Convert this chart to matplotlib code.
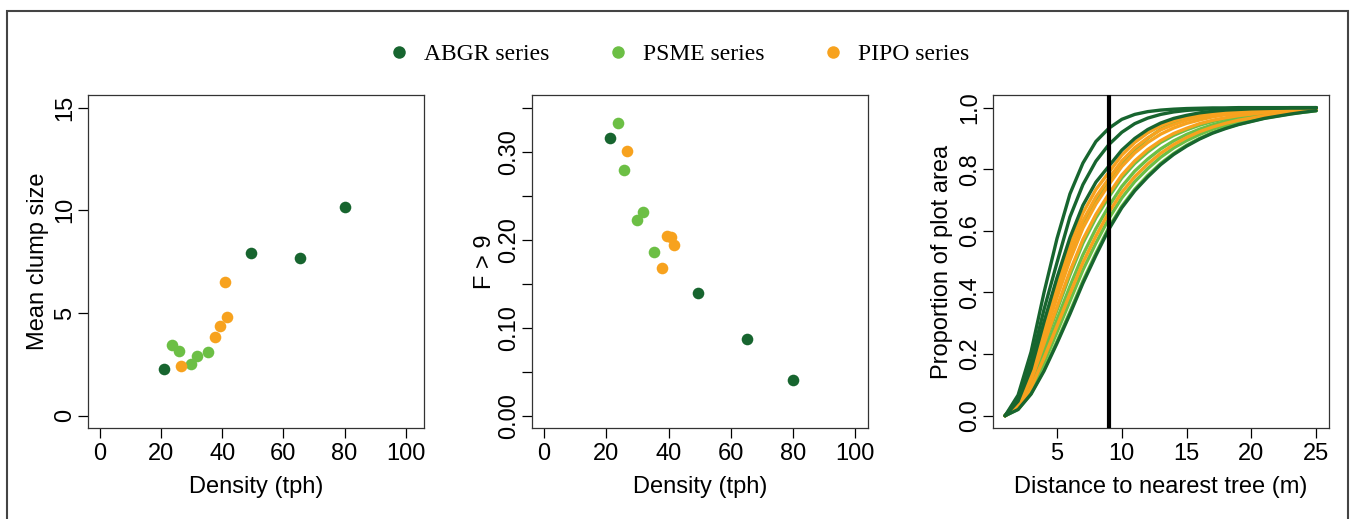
import matplotlib
matplotlib.use('Agg')
from matplotlib import pyplot as plt
from matplotlib.lines import Line2D
import matplotlib.patches as patches

plt.rcParams['font.family'] = ['Liberation Sans', 'DejaVu Sans']

C_ABGR = '#17652f'
C_PSME = '#6cbf45'
C_PIPO = '#f7a21e'

# density (tph), mean clump size, F > 9
abgr_density = [21.1, 49.4, 65.3, 80.0]
abgr_clump = [2.27, 7.92, 7.70, 10.17]
abgr_f9 = [0.316, 0.139, 0.087, 0.041]

psme_density = [23.6, 25.7, 29.7, 31.9, 35.2]
psme_clump = [3.44, 3.17, 2.52, 2.91, 3.09]
psme_f9 = [0.332, 0.279, 0.222, 0.231, 0.186]

pipo_density = [26.6, 37.8, 39.4, 40.8, 41.7]
pipo_clump = [2.44, 3.85, 4.38, 6.51, 4.79]
pipo_f9 = [0.301, 0.1675, 0.2045, 0.203, 0.194]

# cumulative proportion of plot area vs distance to nearest tree
distance = list(range(1, 26))
abgr_curves = [
    [0, .067, .207, .40, .575, .72, .82, .89, .933, .962, .978, .987, .992, .995, .997, .998, .999, .999, 1, 1, 1, 1, 1, 1, 1],
    [0, .055, .175, .345, .497, .645, .75, .826, .88, .92, .948, .966, .978, .986, .991, .994, .996, .997, .998, .999, .999, .999, 1, 1, 1],
    [0, .047, .152, .305, .448, .578, .683, .758, .81, .862, .90, .929, .95, .965, .975, .983, .988, .992, .994, .996, .997, .998, .999, .999, 1],
    [0, .02, .07, .145, .235, .33, .43, .52, .605, .675, .73, .775, .815, .848, .875, .898, .917, .932, .945, .955, .965, .972, .979, .985, .99],
]
psme_curves = [
    [0, .04, .13, .265, .395, .518, .622, .70, .761, .819, .862, .90, .93, .95, .963, .973, .981, .986, .99, .992, .994, .995, .996, .997, .998],
    [0, .034, .111, .226, .343, .457, .56, .642, .71, .772, .819, .856, .887, .91, .928, .943, .955, .964, .971, .977, .982, .986, .99, .993, .995],
    [0, .03, .099, .203, .312, .42, .522, .607, .68, .744, .794, .833, .866, .892, .913, .93, .944, .955, .964, .971, .977, .982, .987, .99, .994],
    [0, .025, .084, .172, .271, .372, .473, .56, .64, .707, .76, .802, .839, .869, .893, .913, .93, .943, .954, .962, .971, .977, .983, .988, .992],
    [0, .021, .072, .15, .241, .337, .437, .527, .611, .68, .735, .78, .819, .851, .878, .90, .919, .934, .946, .956, .966, .973, .98, .985, .99],
]
pipo_curves = [
    [0, .044, .141, .288, .425, .553, .658, .734, .79, .846, .887, .918, .941, .957, .969, .978, .984, .989, .992, .994, .995, .997, .998, .998, .999],
    [0, .041, .133, .272, .404, .529, .633, .71, .77, .827, .87, .902, .928, .945, .959, .969, .977, .983, .986, .99, .992, .994, .996, .997, .998],
    [0, .039, .126, .257, .384, .505, .609, .687, .75, .809, .853, .887, .914, .934, .949, .96, .97, .977, .981, .986, .989, .991, .994, .995, .997],
    [0, .035, .114, .234, .353, .469, .572, .653, .72, .781, .827, .864, .893, .916, .933, .948, .959, .967, .974, .979, .984, .987, .991, .993, .996],
    [0, .027, .091, .187, .291, .396, .497, .583, .66, .725, .776, .817, .852, .88, .903, .922, .937, .949, .959, .966, .974, .979, .985, .989, .993],
]
cutoff = 9

fs = 17
W, H = 1351, 519


def style(ax):
    ax.tick_params(direction='out', length=7, width=0.9, labelsize=fs, pad=4)
    ax.tick_params(axis='y', pad=1)
    for s in ax.spines.values():
        s.set_linewidth(0.9)
        s.set_color('#333333')
    plt.setp(ax.get_yticklabels(), rotation=90, va='center')


def scatter_panel(ax, ys):
    ax.scatter(abgr_density, ys[0], s=70, color=C_ABGR, lw=0, zorder=3)
    ax.scatter(psme_density, ys[1], s=70, color=C_PSME, lw=0, zorder=3)
    ax.scatter(pipo_density, ys[2], s=70, color=C_PIPO, lw=0, zorder=3)
    ax.set_xticks([0, 20, 40, 60, 80, 100])
    ax.set_xlabel('Density (tph)', fontsize=fs, labelpad=8)


def main():
    fig = plt.figure(figsize=(W / 100, H / 100), dpi=100)

    def add_ax(l, r, t=95.3, b=428):
        return fig.add_axes([l / W, 1 - b / H, (r - l) / W, (b - t) / H])

    ax1 = add_ax(87.7, 424)
    scatter_panel(ax1, [abgr_clump, psme_clump, pipo_clump])
    ax1.set_xlim(-4, 106)
    ax1.set_ylim(-0.6, 15.6)
    ax1.set_yticks([0, 5, 10, 15])
    ax1.set_ylabel('Mean clump size', fontsize=fs, labelpad=4)
    style(ax1)

    ax2 = add_ax(531.7, 867.7)
    scatter_panel(ax2, [abgr_f9, psme_f9, pipo_f9])
    ax2.set_xlim(-4, 104)
    ax2.set_ylim(-0.014, 0.364)
    ticks = [0.0, 0.05, 0.10, 0.15, 0.20, 0.25, 0.30, 0.35]
    ax2.set_yticks(ticks)
    ax2.set_yticklabels(['%.2f' % t if i % 2 == 0 else '' for i, t in enumerate(ticks)])
    ax2.set_ylabel('F > 9', fontsize=fs, labelpad=2)
    style(ax2)

    ax3 = add_ax(992.7, 1328.7)
    for curve in psme_curves:
        ax3.plot(distance, curve, color=C_PSME, lw=2.4, solid_capstyle='round')
    for curve in pipo_curves:
        ax3.plot(distance, curve, color=C_PIPO, lw=2.4, solid_capstyle='round')
    for curve in abgr_curves:
        ax3.plot(distance, curve, color=C_ABGR, lw=2.4, solid_capstyle='round')
    ax3.axvline(cutoff, color='black', lw=3.0, zorder=5)
    ax3.set_xlim(0.04, 25.96)
    ax3.set_ylim(-0.04, 1.04)
    ax3.set_xticks([5, 10, 15, 20, 25])
    ax3.set_yticks([0, 0.2, 0.4, 0.6, 0.8, 1.0])
    ax3.set_yticklabels(['0.0', '0.2', '0.4', '0.6', '0.8', '1.0'])
    ax3.set_xlabel('Distance to nearest tree (m)', fontsize=fs, labelpad=8)
    ax3.set_ylabel('Proportion of plot area', fontsize=fs, labelpad=5)
    style(ax3)

    handles = [Line2D([], [], ls='', marker='o', ms=9, mec='none', color=c)
               for c in (C_ABGR, C_PSME, C_PIPO)]
    fig.legend(handles, ['ABGR series', 'PSME series', 'PIPO series'],
               loc='center', bbox_to_anchor=(0.502, 1 - 54 / H), ncol=3, frameon=False,
               prop={'family': 'Liberation Serif', 'size': 17},
               handlelength=1.0, handletextpad=0.56, columnspacing=2.4)

    fig.patches.append(patches.Rectangle((7 / W, -0.05), (1348 - 7) / W, 1.05 - 11 / H,
                                         transform=fig.transFigure, fill=False,
                                         ec='#444444', lw=1.5))
    fig.savefig('out.png', dpi=100)


if __name__ == '__main__':
    main()
